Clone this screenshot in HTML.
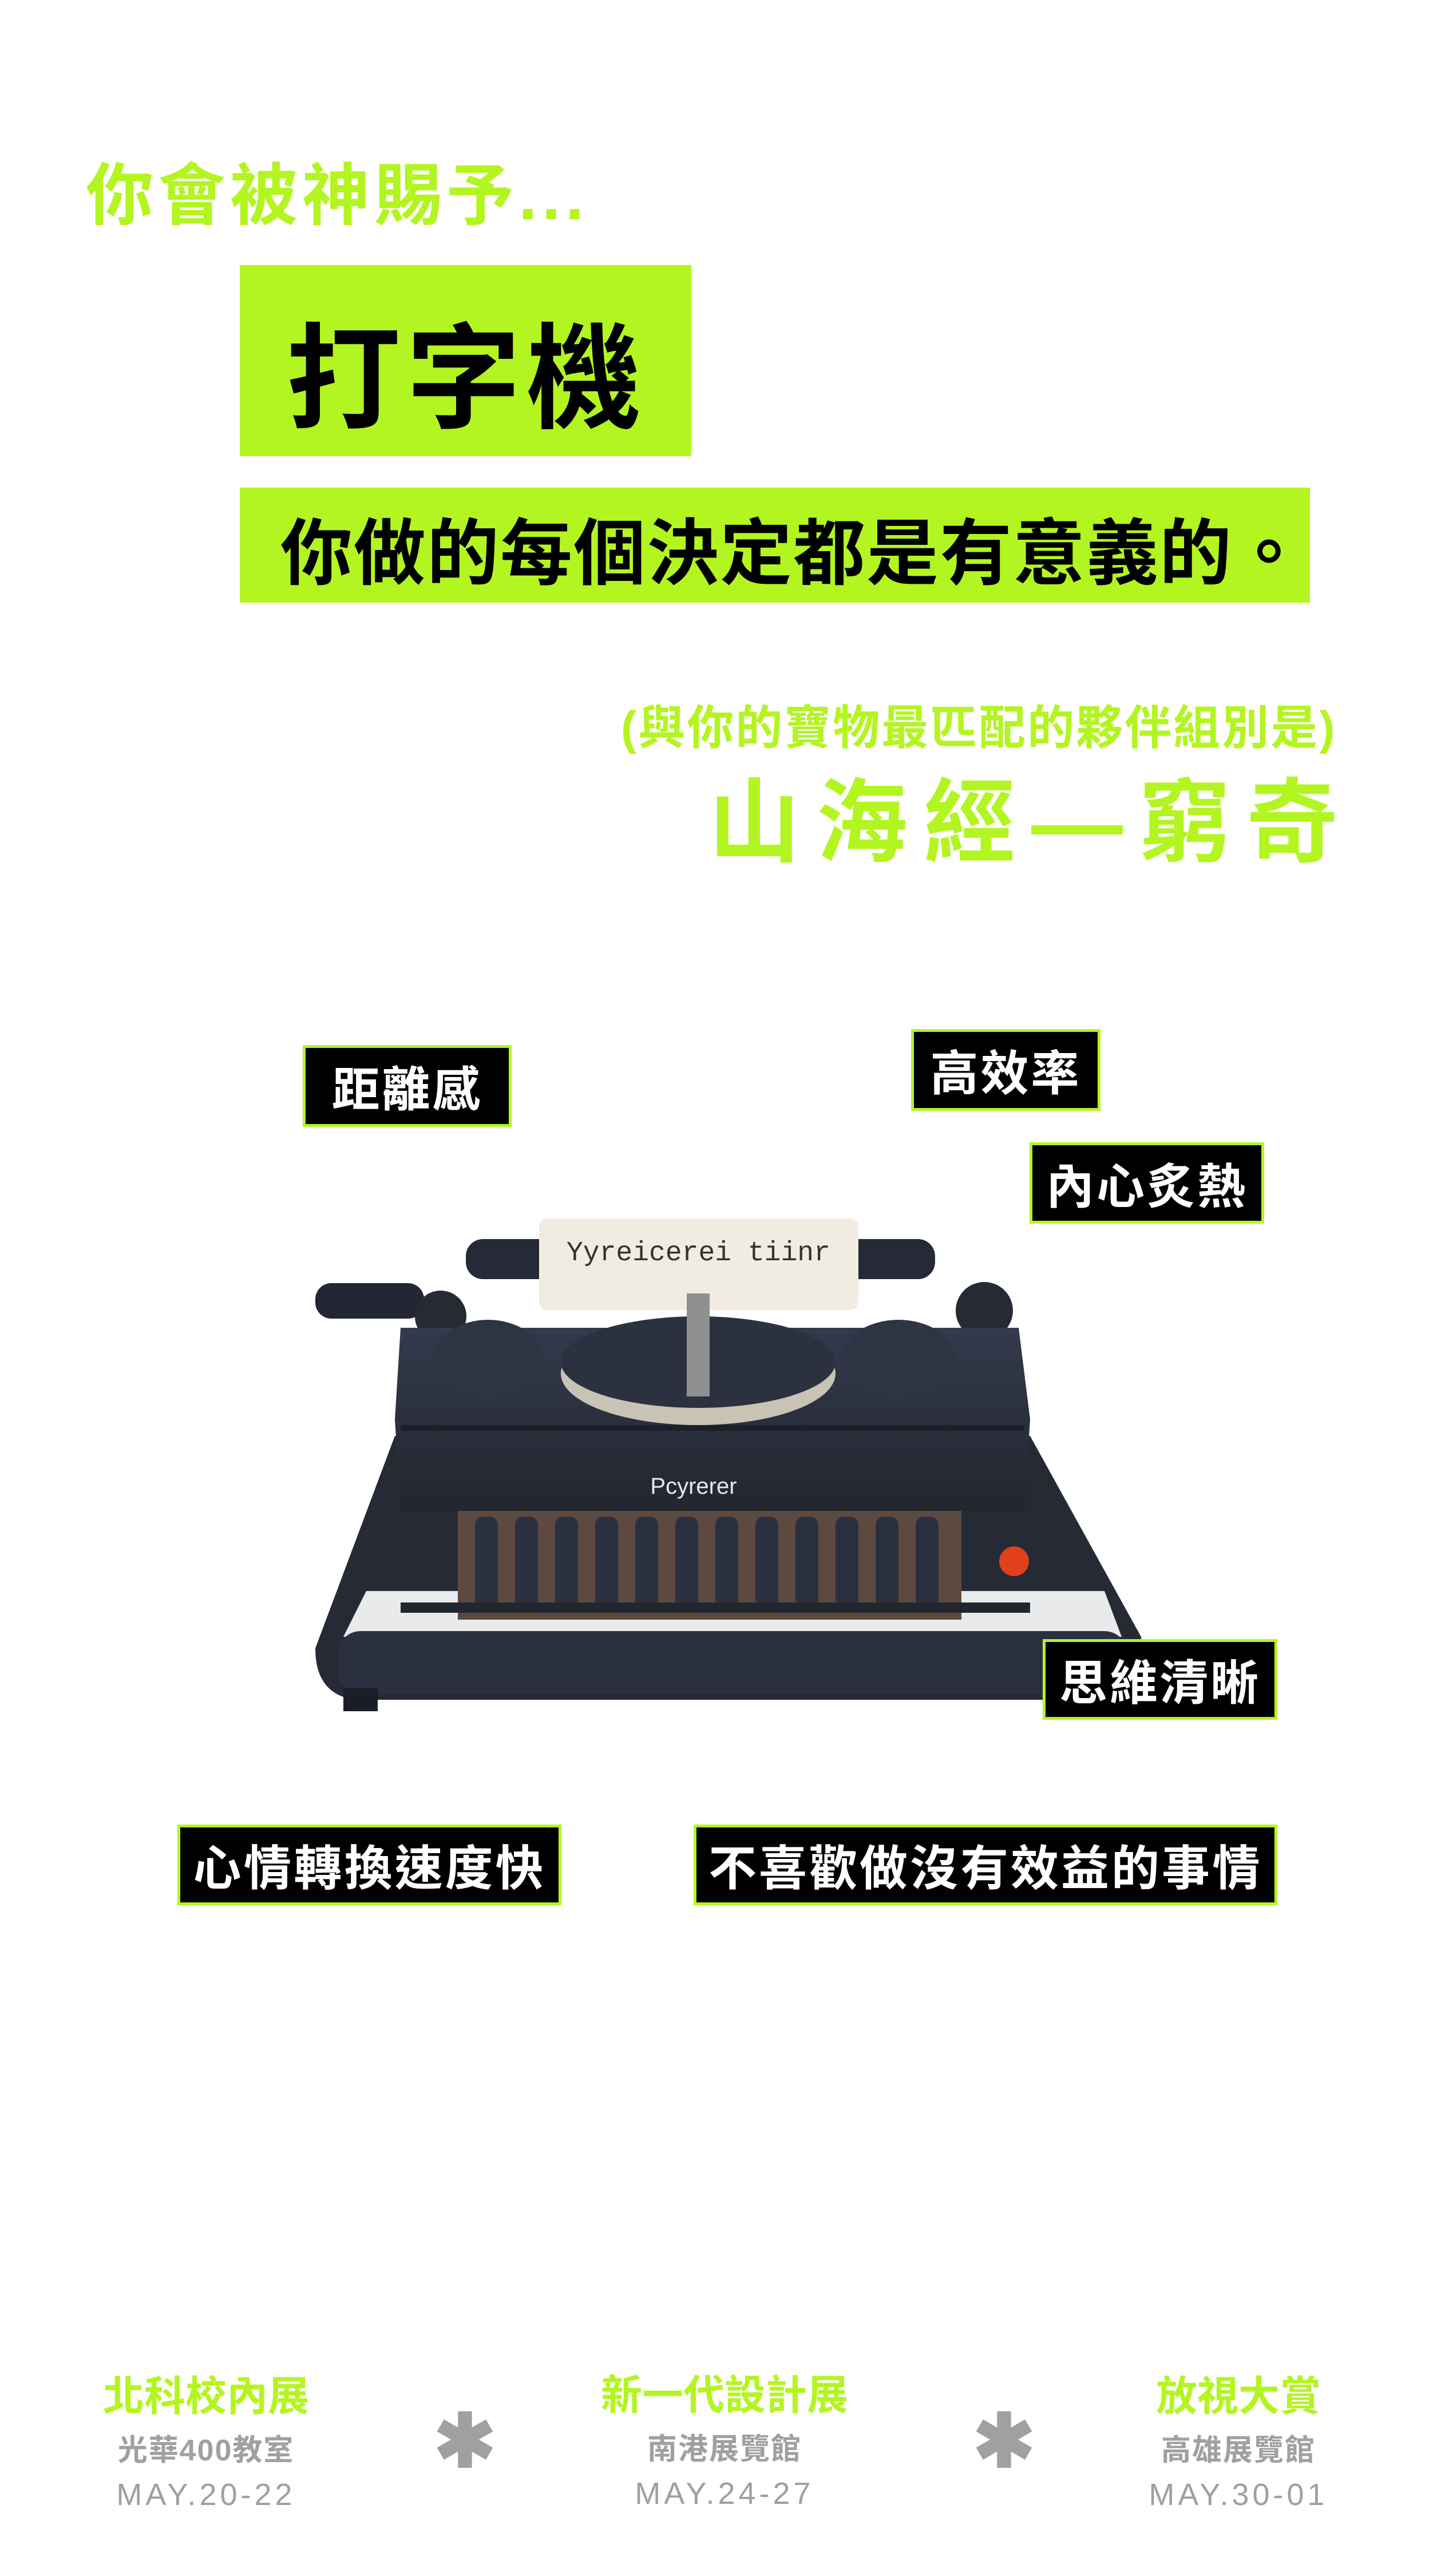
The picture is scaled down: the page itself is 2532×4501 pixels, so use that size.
<!DOCTYPE html>
<html><head><meta charset="utf-8"><style>
html,body{margin:0;padding:0;background:#fff;}
body{width:2532px;height:4501px;position:relative;overflow:hidden;font-family:"Liberation Sans","Noto Sans CJK TC",sans-serif;}
.a{position:absolute;white-space:nowrap;}
.g{color:#b3f520;font-weight:bold;}
.box{position:absolute;background:#b3f520;}
.tag{position:absolute;background:#000;border:5px solid #b3f520;box-sizing:border-box;color:#fff;font-weight:bold;font-size:84px;display:flex;align-items:center;justify-content:center;letter-spacing:4px;}
.ft{position:absolute;text-align:center;width:500px;}
.ft .h{color:#b3f520;font-weight:bold;font-size:72px;line-height:1;}
.ft .s{color:#a0a0a0;font-weight:bold;font-size:52px;margin-top:32px;line-height:1;letter-spacing:2px;}
.ft .d{color:#a0a0a0;font-size:54px;margin-top:24px;line-height:1;letter-spacing:6px;}
.ast{position:absolute;color:#a0a0a0;font-size:130px;font-weight:bold;line-height:1;}
</style></head><body>
<div class="a g" style="left:150px;top:246px;font-size:118px;letter-spacing:8px;">你會被神賜予...</div>
<div class="box" style="left:419px;top:463px;width:789px;height:334px;"></div>
<div class="a" style="left:500px;top:500px;font-size:200px;font-weight:bold;color:#000;letter-spacing:10px;">打字機</div>
<div class="box" style="left:419px;top:852px;width:1870px;height:201px;"></div>
<div class="a" style="left:490px;top:866px;font-size:126px;font-weight:bold;color:#000;letter-spacing:2px;">你做的每個決定都是有意義的。</div>
<div class="a g" style="left:1085px;top:1205px;font-size:82px;letter-spacing:3px;">(與你的寶物最匹配的夥伴組別是)</div>
<div class="a g" style="left:1238px;top:1308px;font-size:160px;letter-spacing:28px;">山海經—窮奇</div>

<svg class="a" style="left:0;top:0" width="2532" height="4501">
<defs><linearGradient id="bd" x1="0" y1="0" x2="0" y2="1"><stop offset="0" stop-color="#343a4c"/><stop offset="1" stop-color="#22262f"/></linearGradient></defs>
<path d="M690 2509 L1800 2509 L1994 2860 Q2000 2960 1930 2970 L620 2970 Q551 2960 551 2880 Z" fill="#262a35"/>
<path d="M640 2780 L1930 2780 L1960 2860 L600 2860 Z" fill="#fff" opacity="0.9"/>
<rect x="590" y="2850" width="1380" height="110" rx="40" fill="#2b3040"/>
<rect x="600" y="2950" width="60" height="40" fill="#1a1d25"/>
<rect x="551" y="2242" width="190" height="62" rx="28" fill="#232733"/>
<rect x="814" y="2165" width="820" height="70" rx="30" fill="#252a36"/>
<circle cx="770" cy="2300" r="45" fill="#262a35"/>
<circle cx="1720" cy="2290" r="50" fill="#262a35"/>
<rect x="942" y="2129" width="558" height="160" rx="14" fill="#f1ece1"/>
<text x="990" y="2202" font-family="Liberation Mono,monospace" font-size="48" fill="#333">Yyreicerei tiinr</text>
<path d="M700 2320 L1780 2320 L1800 2480 L1790 2640 L700 2640 L690 2480 Z" fill="url(#bd)"/>
<rect x="700" y="2490" width="1090" height="10" fill="#1c1f28"/>
<ellipse cx="1220" cy="2400" rx="240" ry="90" fill="#c9c3b6"/>
<ellipse cx="1220" cy="2380" rx="240" ry="80" fill="#2c3140"/>
<ellipse cx="853" cy="2376" rx="96" ry="70" fill="#2f3444"/>
<ellipse cx="1570" cy="2376" rx="100" ry="70" fill="#2f3444"/>
<rect x="1200" y="2260" width="40" height="180" fill="#8f9090"/>
<text x="1212" y="2610" text-anchor="middle" font-size="40" fill="#e8e8e8">Pcyrerer</text>
<rect x="800" y="2640" width="880" height="190" fill="#5c4a40"/>
<g fill="#2b3040">
<rect x="830" y="2650" width="40" height="160" rx="14"/><rect x="900" y="2650" width="40" height="160" rx="14"/><rect x="970" y="2650" width="40" height="160" rx="14"/><rect x="1040" y="2650" width="40" height="160" rx="14"/><rect x="1110" y="2650" width="40" height="160" rx="14"/><rect x="1180" y="2650" width="40" height="160" rx="14"/><rect x="1250" y="2650" width="40" height="160" rx="14"/><rect x="1320" y="2650" width="40" height="160" rx="14"/><rect x="1390" y="2650" width="40" height="160" rx="14"/><rect x="1460" y="2650" width="40" height="160" rx="14"/><rect x="1530" y="2650" width="40" height="160" rx="14"/><rect x="1600" y="2650" width="40" height="160" rx="14"/>
</g>
<rect x="700" y="2800" width="1100" height="18" fill="#22262f"/>
<circle cx="1772" cy="2728" r="26" fill="#e0401c"/>
</svg>

<div class="tag" style="left:529px;top:1826px;width:365px;height:143px;">距離感</div>
<div class="tag" style="left:1592px;top:1798px;width:331px;height:143px;">高效率</div>
<div class="tag" style="left:1799px;top:1996px;width:410px;height:142px;">內心炙熱</div>
<div class="tag" style="left:1822px;top:2864px;width:410px;height:141px;">思維清晰</div>
<div class="tag" style="left:310px;top:3188px;width:671px;height:141px;">心情轉換速度快</div>
<div class="tag" style="left:1212px;top:3188px;width:1020px;height:141px;">不喜歡做沒有效益的事情</div>

<div class="ft" style="left:110px;top:4152px;"><div class="h">北科校內展</div><div class="s">光華400教室</div><div class="d">MAY.20-22</div></div>
<div class="ast" style="left:758px;top:4200px;">✱</div>
<div class="ft" style="left:1016px;top:4150px;"><div class="h">新一代設計展</div><div class="s">南港展覽館</div><div class="d">MAY.24-27</div></div>
<div class="ast" style="left:1700px;top:4200px;">✱</div>
<div class="ft" style="left:1914px;top:4152px;"><div class="h">放視大賞</div><div class="s">高雄展覽館</div><div class="d">MAY.30-01</div></div>
</body></html>
